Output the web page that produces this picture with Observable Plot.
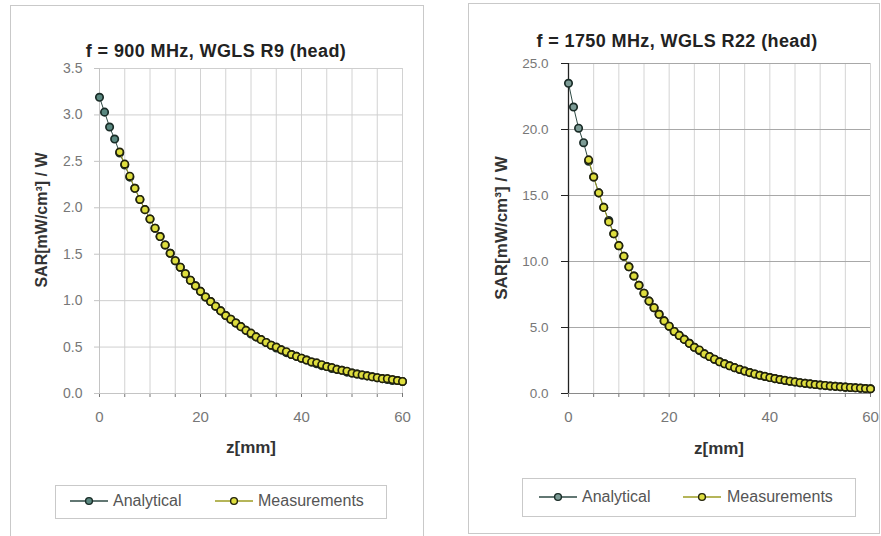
<!DOCTYPE html>
<html><head><meta charset="utf-8">
<script src="https://cdn.jsdelivr.net/npm/d3@7"></script>
<script src="https://cdn.jsdelivr.net/npm/@observablehq/plot@0.6"></script>
<style>
body{margin:0;background:#fff;}
#root{position:relative;width:881px;height:536px;overflow:hidden;font-family:"Liberation Sans",Arial,sans-serif;}
.panel{position:absolute;border:1px solid #c9c9c9;box-sizing:border-box;}
.title{position:absolute;transform:translate(-50%,-50%);font-weight:bold;font-size:18px;letter-spacing:0.4px;color:#222;white-space:nowrap;}
.ytitle{position:absolute;transform:translate(-50%,-50%) rotate(-90deg);font-weight:bold;color:#333;white-space:nowrap;}
.xtitle{position:absolute;transform:translate(-50%,-50%);font-weight:bold;font-size:17px;color:#333;white-space:nowrap;}
.legend{position:absolute;border:1px solid #c9c9c9;box-sizing:border-box;}
.litem{position:absolute;transform:translateY(-50%);font-size:16px;color:#555;white-space:nowrap;}
.chart{position:absolute;top:0;}
</style></head><body><div id="root"></div>
<script>
// ---- data ----
const zAnalytical = [0,1,2,3,4,5,6,7,8,9,10,11,12,13,14,15,16,17,18,19,20,21,22,23,24,25,26,27,28,29,30,31,32,33,34,35,36,37,38,39,40,41,42,43,44,45,46,47,48,49,50,51,52,53,54,55,56,57,58,59,60];
const zMeasured = [4,5,6,7,8,9,10,11,12,13,14,15,16,17,18,19,20,21,22,23,24,25,26,27,28,29,30,31,32,33,34,35,36,37,38,39,40,41,42,43,44,45,46,47,48,49,50,51,52,53,54,55,56,57,58,59,60];

// f = 900 MHz
const sar900Analytical = [3.19,3.03,2.87,2.74,2.59,2.46,2.33,2.21,2.09,1.98,1.88,1.78,1.69,1.60,1.51,1.43,1.36,1.29,1.22,1.16,1.10,1.04,0.99,0.94,0.89,0.84,0.80,0.76,0.72,0.68,0.64,0.61,0.58,0.55,0.52,0.49,0.47,0.44,0.42,0.40,0.38,0.36,0.34,0.32,0.30,0.29,0.27,0.26,0.25,0.23,0.22,0.21,0.20,0.19,0.18,0.17,0.16,0.15,0.14,0.14,0.13];
const sar900Measured = [2.60,2.47,2.34,2.21,2.09,1.98,1.88,1.78,1.69,1.60,1.51,1.43,1.36,1.29,1.22,1.16,1.10,1.04,0.99,0.94,0.89,0.84,0.80,0.76,0.72,0.68,0.65,0.61,0.58,0.55,0.52,0.50,0.47,0.45,0.42,0.40,0.38,0.36,0.34,0.33,0.31,0.29,0.28,0.26,0.25,0.24,0.22,0.21,0.20,0.19,0.18,0.17,0.16,0.16,0.15,0.14,0.13];

// f = 1750 MHz
const sar1750Analytical = [23.5,21.7,20.1,19.0,17.6,16.4,15.2,14.1,13.1,12.1,11.2,10.4,9.6,8.9,8.2,7.6,7.0,6.5,6.0,5.5,5.1,4.7,4.4,4.1,3.8,3.5,3.25,3.0,2.8,2.6,2.4,2.25,2.1,1.95,1.82,1.70,1.58,1.48,1.38,1.29,1.21,1.13,1.06,0.99,0.93,0.87,0.82,0.77,0.72,0.68,0.64,0.60,0.57,0.54,0.51,0.48,0.45,0.43,0.40,0.38,0.36];
const sar1750Measured = [17.7,16.4,15.2,14.1,13.0,12.1,11.2,10.4,9.6,8.9,8.2,7.6,7.0,6.5,6.0,5.5,5.1,4.7,4.4,4.1,3.8,3.5,3.3,3.0,2.8,2.6,2.4,2.25,2.1,1.96,1.83,1.70,1.59,1.48,1.38,1.30,1.21,1.13,1.06,1.00,0.93,0.88,0.82,0.77,0.73,0.68,0.64,0.61,0.57,0.54,0.51,0.48,0.46,0.43,0.41,0.38,0.36];

const xGrid = [0,5,10,15,20,25,30,35,40,45,50,55,60];
const xLabels = [0,20,40,60];
const yTicks900 = [0,0.5,1.0,1.5,2.0,2.5,3.0,3.5];
const yTicks1750 = [0,5,10,15,20,25];

const titles = ["f = 900 MHz, WGLS R9 (head)", "f = 1750 MHz, WGLS R22 (head)"];
const yTitle = "SAR[mW/cm³] / W";
const xTitle = "z[mm]";
const seriesNames = ["Analytical", "Measurements"];

// ---- styles ----
const colA = {fill:"#5a8880", stroke:"#1a2c27", line:"#2e4a44"};
const colM = {fill:"#dede3e", stroke:"#22220c", line:"#9c9c22"};

const root = document.getElementById("root");
function el(tag, cls, css, text){
  const e = document.createElement(tag);
  if (cls) e.className = cls;
  Object.assign(e.style, css||{});
  if (text!=null) e.textContent = text;
  root.appendChild(e);
  return e;
}

// panels
el("div","panel",{left:"10px",top:"5px",width:"414px",height:"545px"});
el("div","panel",{left:"468px",top:"3px",width:"412px",height:"531px"});

function rows(z, v){ return z.map((d,i)=>({z:d, v:v[i]})); }

function chart(o){
  const A = rows(zAnalytical, o.a), M = rows(zMeasured, o.m);
  const svg = Plot.plot({
    width: o.width, height: 470,
    marginLeft: o.ml, marginRight: o.mr, marginTop: o.mt, marginBottom: 77,
    style: {fontFamily:'"Liberation Sans",Arial,sans-serif', fontSize: "15px", color:"#777", background:"transparent", overflow:"visible"},
    x: {domain:[0,60], ticks: xGrid, tickFormat: d => xLabels.includes(d) ? String(d) : "", tickSize: 4, tickPadding: 14, label: null},
    y: {axis: null, domain:[0, o.ymax]},
    marks: [
      Plot.ruleX(xGrid, {stroke: o.gridV, strokeWidth: 1}),
      Plot.ruleY(o.yt, {stroke: o.gridH, strokeWidth: 1}),
      Plot.axisY(o.yt, {tickFormat: d => d.toFixed(1), tickSize: o.ts, tickPadding: o.tp, label: null, fontSize: o.yfs, stroke: o.axisCol}),
      Plot.ruleX([0], {stroke: o.axisCol, strokeWidth: o.axisW}),
      Plot.ruleY([0], {stroke: o.baseCol, strokeWidth: 1}),
      Plot.line(A, {x:"z", y:"v", stroke: colA.line, strokeWidth: 1}),
      Plot.dot(A, {x:"z", y:"v", r: 3.7, fill: o.fillA, stroke: colA.stroke, strokeWidth: 1.7}),
      Plot.line(M, {x:"z", y:"v", stroke: colM.line, strokeWidth: 1}),
      Plot.dot(M, {x:"z", y:"v", r: 3.7, fill: colM.fill, stroke: colM.stroke, strokeWidth: 1.7})
    ]
  });
  svg.classList.add("chart");
  svg.style.left = o.left + "px";
  root.appendChild(svg);
}

chart({left:0, width:440, ml:99, mr:38, mt:68, ymax:3.5, yt:yTicks900, a:sar900Analytical, m:sar900Measured,
  yfs:"14px", ts:5, tp:12, gridV:"#d2d2d2", gridH:"#cfcfcf", axisCol:"#c4c4c4", axisW:1, baseCol:"#c4c4c4", fillA:colA.fill});
chart({left:440, width:441, ml:128, mr:11, mt:63, ymax:25, yt:yTicks1750, a:sar1750Analytical, m:sar1750Measured,
  yfs:"13.5px", ts:7, tp:13, gridV:"#d4d4d4", gridH:"#a8a8a8", axisCol:"#222", axisW:1.3, baseCol:"#8a8a8a", fillA:"#7c9b95"});

// titles
el("div","title",{left:"216px",top:"51px"}, titles[0]);
el("div","title",{left:"677px",top:"41px"}, titles[1]);
el("div","ytitle",{left:"42px",top:"220px",fontSize:"16px"}, yTitle);
el("div","ytitle",{left:"502px",top:"228px",fontSize:"17px"}, yTitle);
el("div","xtitle",{left:"251px",top:"448px"}, xTitle);
el("div","xtitle",{left:"719px",top:"449px"}, xTitle);

// legends
function swatch(x, y, c, fill){
  const ns = "http://www.w3.org/2000/svg";
  const s = document.createElementNS(ns,"svg");
  s.setAttribute("width","38"); s.setAttribute("height","12");
  Object.assign(s.style,{position:"absolute",left:(x-19)+"px",top:(y-6)+"px"});
  const l = document.createElementNS(ns,"line");
  l.setAttribute("x1","0");l.setAttribute("x2","38");l.setAttribute("y1","6");l.setAttribute("y2","6");
  l.setAttribute("stroke",c.line);l.setAttribute("stroke-width","1.3");
  const ci = document.createElementNS(ns,"circle");
  ci.setAttribute("cx","19");ci.setAttribute("cy","6");ci.setAttribute("r","3.4");
  ci.setAttribute("fill",fill);ci.setAttribute("stroke",c.stroke);ci.setAttribute("stroke-width","1.4");
  s.appendChild(l); s.appendChild(ci); root.appendChild(s);
}
el("div","legend",{left:"55px",top:"485px",width:"332px",height:"34px"});
swatch(89,501,colA,colA.fill); el("div","litem",{left:"113px",top:"501px"}, seriesNames[0]);
swatch(234,501,colM,colM.fill); el("div","litem",{left:"258px",top:"501px"}, seriesNames[1]);
el("div","legend",{left:"522px",top:"478px",width:"334px",height:"39px"});
swatch(558,497,colA,"#7c9b95"); el("div","litem",{left:"582px",top:"497px"}, seriesNames[0]);
swatch(702,497,colM,colM.fill); el("div","litem",{left:"727px",top:"497px"}, seriesNames[1]);
</script>
</body></html>
